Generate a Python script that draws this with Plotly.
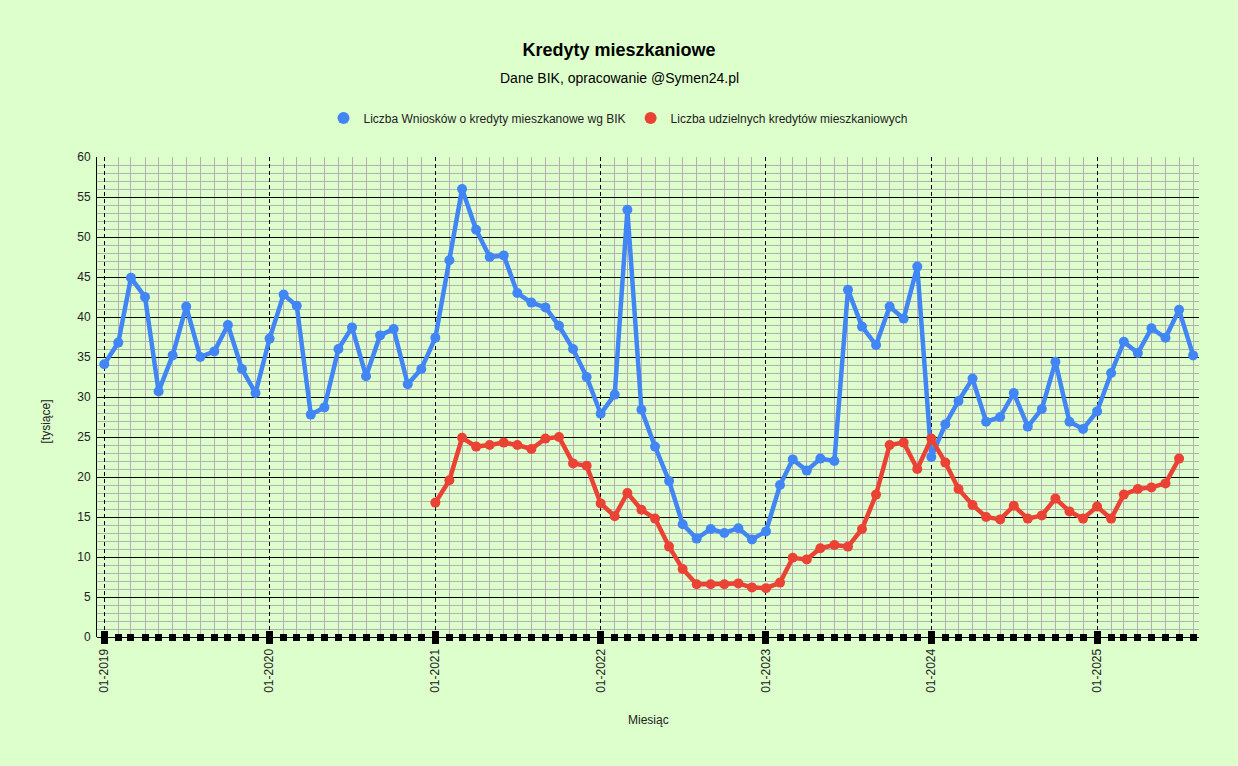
import pandas as pd
import plotly.graph_objects as go

# ---------------- data (thousands) ----------------
months_blue = pd.date_range("2019-01-01", periods=80, freq="MS")
months_red = pd.date_range("2021-01-01", periods=55, freq="MS")

wnioski = [
    34.1, 36.8, 44.9, 42.5, 30.7, 35.2, 41.3, 35.0, 35.7, 39.0, 33.5, 30.5,   # 2019
    37.3, 42.8, 41.4, 27.8, 28.7, 36.0, 38.7, 32.6, 37.7, 38.5, 31.6, 33.5,   # 2020
    37.4, 47.1, 56.0, 50.9, 47.5, 47.7, 43.0, 41.8, 41.2, 38.9, 36.0, 32.5,   # 2021
    27.9, 30.3, 53.4, 28.4, 23.8, 19.5, 14.1, 12.3, 13.5, 13.0, 13.6, 12.2,   # 2022
    13.2, 19.0, 22.2, 20.8, 22.3, 22.0, 43.4, 38.8, 36.5, 41.3, 39.8, 46.3,   # 2023
    22.5, 26.6, 29.5, 32.3, 26.9, 27.5, 30.5, 26.3, 28.5, 34.4, 26.9, 26.0,   # 2024
    28.2, 33.0, 36.9, 35.5, 38.6, 37.4, 40.9, 35.2,                           # 2025
]

udzielone = [
    16.8, 19.6, 24.9, 23.8, 24.0, 24.3, 24.0, 23.5, 24.8, 25.0, 21.7, 21.4,   # 2021
    16.7, 15.1, 18.0, 15.9, 14.8, 11.3, 8.5, 6.6, 6.6, 6.6, 6.7, 6.2,         # 2022
    6.1, 6.8, 9.9, 9.7, 11.1, 11.5, 11.3, 13.5, 17.8, 24.0, 24.3, 21.0,       # 2023
    24.8, 21.8, 18.5, 16.5, 15.0, 14.7, 16.4, 14.8, 15.2, 17.3, 15.7, 14.8,   # 2024
    16.3, 14.8, 17.8, 18.5, 18.7, 19.2, 22.3,                                 # 2025
]

name_blue = "Liczba Wniosków o kredyty mieszkanowe wg BIK"
name_red = "Liczba udzielnych kredytów mieszkaniowych"

BLUE = "#4285F4"
RED = "#EA4335"
BG = "#DDFFCC"
GRID_MINOR = "#B4B0B4"
FONT = "Liberation Sans, Arial, sans-serif"
TXT = "#222222"

fig = go.Figure()

fig.add_trace(go.Scatter(
    x=months_blue, y=wnioski, mode="lines+markers", name=name_blue,
    line=dict(color=BLUE, width=4.5), marker=dict(color=BLUE, size=10),
    showlegend=False, cliponaxis=False,
))
fig.add_trace(go.Scatter(
    x=months_red, y=udzielone, mode="lines+markers", name=name_red,
    line=dict(color=RED, width=4.5), marker=dict(color=RED, size=10),
    showlegend=False, cliponaxis=False,
))
# legend entries (circle only)
fig.add_trace(go.Scatter(x=[None], y=[None], mode="markers", name=name_blue,
                         marker=dict(color=BLUE, size=12)))
fig.add_trace(go.Scatter(x=[None], y=[None], mode="markers", name=name_red,
                         marker=dict(color=RED, size=12)))
# empty trace to keep the overlay axis (inside tick marks) alive
fig.add_trace(go.Scatter(x=[None], y=[None], xaxis="x2", showlegend=False,
                         hoverinfo="skip"))

x_range = ["2018-12-16", "2025-08-14"]

fig.update_layout(
    width=1238, height=766,
    paper_bgcolor=BG, plot_bgcolor=BG,
    font=dict(family=FONT, size=12, color=TXT),
    margin=dict(l=97, r=39, t=157, b=129),
    title=dict(text="<b>Kredyty mieszkaniowe</b>", x=0.5, xanchor="center",
               xref="container", yref="container", y=1 - 50 / 766, yanchor="middle",
               font=dict(family=FONT, size=18, color="#000000")),
    legend=dict(orientation="h", xref="container", x=0.5 - 1 / 1238, xanchor="center",
                yref="container", y=1 - 118 / 766, yanchor="middle",
                font=dict(family=FONT, size=12, color=TXT), bgcolor="rgba(0,0,0,0)",
                itemclick=False),
    xaxis=dict(
        range=x_range, type="date",
        tick0="2019-01-01", dtick="M12", tickformat="%m-%Y", tickangle=-90,
        showgrid=True, gridcolor="#000000", gridwidth=1, griddash="4px,3px",
        ticks="outside", ticklen=6, tickwidth=7, tickcolor="#000000",
        showline=False, zeroline=False,
        tickfont=dict(family=FONT, size=12, color=TXT),
        minor=dict(tick0="2019-01-01", dtick="M1", showgrid=True, gridcolor=GRID_MINOR,
                   gridwidth=1, griddash="solid", ticks="outside", ticklen=3,
                   tickwidth=7, tickcolor="#000000"),
    ),
    xaxis2=dict(
        overlaying="x", anchor="y", side="bottom", type="date",
        range=x_range,
        tick0="2019-01-01", dtick="M12", showticklabels=False, showgrid=False,
        zeroline=False, showline=False,
        ticks="inside", ticklen=6, tickwidth=7, tickcolor="#000000",
        minor=dict(tick0="2019-01-01", dtick="M1", showgrid=False, ticks="inside",
                   ticklen=3, tickwidth=7, tickcolor="#000000"),
    ),
    yaxis=dict(
        range=[0, 60], dtick=5, tick0=0,
        showgrid=True, gridcolor="#000000", gridwidth=1,
        zeroline=True, zerolinecolor="#000000", zerolinewidth=1,
        showline=True, linecolor="#000000", linewidth=1,
        ticks="", ticklabelstandoff=3,
        tickfont=dict(family=FONT, size=12, color=TXT),
        minor=dict(dtick=1, showgrid=True, gridcolor=GRID_MINOR, gridwidth=1,
                   griddash="solid"),
    ),
    annotations=[
        dict(text="Dane BIK, opracowanie @Symen24.pl", xref="paper", yref="paper",
             x=(619 - 97) / 1102, y=(637 - 78) / 480, xanchor="center", yanchor="middle",
             showarrow=False, font=dict(family=FONT, size=14, color="#000000")),
        dict(text="[tysiące]", xref="paper", yref="paper",
             x=(45 - 97) / 1102, y=(637 - 421.5) / 480, xanchor="center",
             yanchor="middle", textangle=-90, showarrow=False,
             font=dict(family=FONT, size=12, color=TXT)),
        dict(text="Miesiąc", xref="paper", yref="paper",
             x=0.5, y=(637 - 720) / 480, xanchor="center", yanchor="middle",
             showarrow=False, font=dict(family=FONT, size=12, color=TXT)),
    ],
)

fig.write_html(
    "out.html",
    config={"displayModeBar": False},
    post_script="document.body.style.margin='0';document.body.style.overflow='hidden';",
)
